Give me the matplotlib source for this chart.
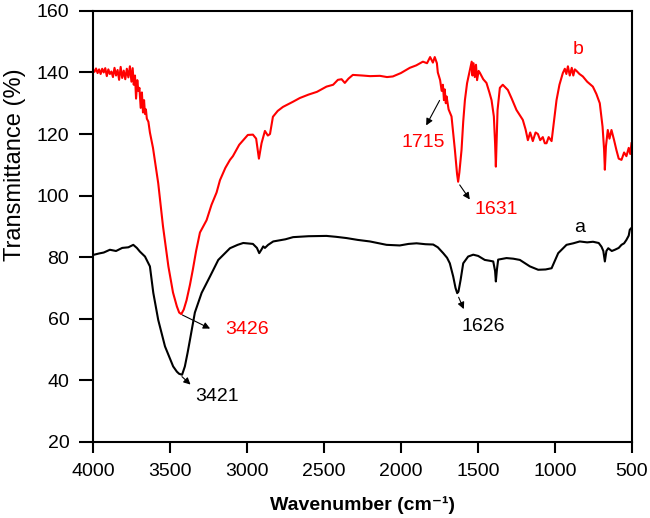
import numpy as np
import matplotlib.pyplot as plt

plt.rcParams['font.family'] = ['Liberation Sans', 'DejaVu Sans']

# curve b (red)
wn_b = [4000, 3990, 3980, 3970, 3960, 3950, 3940, 3930, 3920, 3910, 3900, 3890, 3880,
        3870, 3860, 3850, 3840, 3830, 3820, 3810, 3800, 3790, 3780, 3770, 3760, 3750,
        3742, 3735, 3727, 3720, 3712, 3705, 3698, 3690, 3682, 3675, 3668, 3662, 3656,
        3650, 3640, 3630, 3610, 3576, 3545, 3510, 3480, 3455, 3440, 3426, 3410, 3392,
        3370, 3351, 3330, 3305, 3262, 3230, 3197, 3175, 3140, 3110, 3091, 3050, 2994,
        2961, 2940, 2922, 2905, 2883, 2864, 2850, 2831, 2800, 2766, 2700, 2656, 2600,
        2545, 2483, 2440, 2409, 2385, 2364, 2340, 2312, 2250, 2200, 2136, 2090, 2052,
        2000, 1942, 1900, 1857, 1830, 1810, 1792, 1780, 1766, 1760, 1745, 1735, 1727,
        1720, 1715, 1708, 1703, 1690, 1671, 1649, 1635, 1628, 1620, 1606, 1595, 1584,
        1570, 1552, 1540, 1535, 1528, 1520, 1512, 1505, 1495, 1487, 1465, 1444, 1425,
        1411, 1396, 1388, 1383, 1378, 1372, 1357, 1338, 1305, 1280, 1249, 1208, 1190,
        1175, 1160, 1143, 1125, 1110, 1095, 1078, 1065, 1054, 1040, 1021, 989, 970,
        948, 935, 925, 915, 903, 890, 880, 870, 859, 840, 818, 790, 753, 730, 708, 690,
        680, 675, 668, 656, 645, 632, 615, 600, 585, 567, 550, 535, 520, 510, 502]
tr_b = [141.0, 140.2, 141.3, 139.8, 141.0, 139.5, 141.2, 140.0, 141.4, 138.8, 141.0,
        139.5, 140.3, 138.5, 141.5, 139.0, 140.8, 137.6, 141.8, 138.2, 140.6, 137.8,
        141.2, 138.4, 142.0, 137.0, 141.4, 136.0, 139.0, 131.5, 137.5, 134.0, 135.0,
        128.5, 133.5, 127.0, 131.0, 126.5, 128.0, 125.0, 124.0, 120.5, 115.5, 104.0,
        90.0, 77.0, 68.5, 64.0, 62.0, 61.5, 63.0, 66.0, 71.0, 76.0, 82.0, 88.0, 92.0,
        97.0, 101.0, 105.0, 109.0, 111.6, 112.8, 116.5, 119.7, 119.8, 118.5, 112.0,
        117.0, 121.0, 119.5, 120.0, 125.6, 127.5, 128.8, 130.5, 131.7, 132.8, 133.7,
        135.4, 136.0, 137.6, 137.8, 136.6, 138.0, 139.2, 139.0, 138.8, 138.9, 138.5,
        138.7, 139.8, 141.5, 142.3, 143.5, 143.0, 145.0, 143.2, 145.0, 143.0, 140.0,
        137.5, 134.0, 136.0, 131.0, 134.5, 130.0, 132.2, 128.0, 125.7, 114.8, 107.0,
        104.5, 107.5, 114.8, 124.0, 131.0, 136.5, 140.8, 143.5, 139.0, 143.0, 138.5,
        142.5, 137.5, 140.5, 139.9, 137.8, 136.6, 133.5, 131.0, 125.7, 117.0, 109.4,
        118.0, 127.8, 135.0, 136.0, 134.3, 131.5, 127.8, 124.6, 121.5, 118.0, 120.5,
        117.7, 120.5, 120.0, 118.0, 119.0, 117.0, 117.0, 119.0, 117.7, 131.0, 136.0,
        139.8, 141.2, 139.5, 142.0, 139.0, 141.5, 139.0, 141.0, 140.5, 139.5, 138.7,
        137.0, 135.4, 133.0, 130.0, 122.4, 115.0, 108.4, 116.0, 121.3, 118.5, 121.3,
        118.0, 114.8, 112.0, 111.6, 114.0, 112.8, 115.5, 113.5, 117.0]

# curve a (black)
wn_a = [4000, 3960, 3930, 3890, 3850, 3810, 3770, 3738, 3715, 3695, 3662, 3630, 3608,
        3576, 3532, 3479, 3455, 3440, 3421, 3403, 3385, 3370, 3338, 3294, 3240, 3186,
        3110, 3060, 3024, 2961, 2935, 2920, 2905, 2894, 2883, 2862, 2829, 2750, 2700,
        2600, 2483, 2420, 2353, 2280, 2201, 2093, 2007, 1950, 1898, 1840, 1790, 1760,
        1725, 1700, 1682, 1660, 1645, 1634, 1626, 1612, 1595, 1563, 1530, 1498, 1455,
        1420, 1400, 1388, 1383, 1376, 1368, 1314, 1270, 1227, 1162, 1108, 1060, 1021,
        978, 924, 880, 838, 790, 752, 715, 697, 685, 675, 665, 653, 630, 610, 585, 567,
        550, 535, 520, 513, 502]
tr_a = [80.7, 81.2, 81.5, 82.4, 82.0, 83.0, 83.2, 84.0, 83.0, 81.8, 80.2, 77.0, 68.4,
        59.6, 51.0, 44.5, 42.8, 42.1, 41.8, 44.5, 49.0, 53.1, 62.0, 68.4, 73.7, 79.1,
        82.9, 84.0, 84.6, 84.3, 83.0, 81.3, 82.5, 83.5, 83.0, 84.0, 85.1, 85.8, 86.5,
        86.8, 86.9, 86.6, 86.2, 85.6, 85.1, 84.0, 83.8, 84.3, 84.5, 84.2, 84.1, 83.2,
        81.3, 79.8, 78.0, 73.7, 70.0, 68.3, 68.8, 72.6, 78.0, 80.2, 80.8, 80.4, 79.1,
        78.8, 78.6, 75.5, 72.1, 76.0, 79.2, 79.7, 79.5, 79.1, 77.0, 75.9, 76.0, 76.4,
        81.3, 84.0, 84.5, 85.1, 84.8, 85.0, 84.6, 83.4, 82.0, 78.6, 82.0, 82.9, 82.0,
        82.4, 83.0, 84.0, 84.5, 85.6, 87.0, 88.9, 89.5]

fig, ax = plt.subplots(figsize=(6.5, 5.18), dpi=100)
fig.subplots_adjust(left=0.143, right=0.972, bottom=0.147, top=0.979)

ax.plot(wn_b, tr_b, color='#ff0000', lw=1.5)
ax.plot(wn_a, tr_a, color='black', lw=1.5)

ax.set_xlim(4000, 500)
ax.set_ylim(20, 160)
ax.set_xticks(np.arange(4000, 499, -500))
ax.set_yticks(np.arange(20, 161, 20))
ax.tick_params(axis='both', direction='out', width=1.5, labelsize=14,
               top=False, right=False)
ax.tick_params(axis='x', length=8, pad=7)
ax.tick_params(axis='y', length=10, pad=7)
for s in ax.spines.values():
    s.set_linewidth(1.5)

ax.set_xlabel('Wavenumber (cm⁻¹)', fontsize=14, fontweight='bold', labelpad=12)
ax.set_ylabel('Transmittance (%)', fontsize=17)
ax.yaxis.set_label_coords(-0.124, 0.643)

arrow = dict(arrowstyle='-|>', color='black', lw=0.8, mutation_scale=10)
ax.annotate('', xy=(1844, 122), xytext=(1740, 131.7), arrowprops=arrow)
ax.annotate('', xy=(1542, 98), xytext=(1628, 104.2), arrowprops=arrow)
ax.annotate('', xy=(3223, 56.4), xytext=(3435, 61.6), arrowprops=arrow)
ax.annotate('', xy=(3353, 38), xytext=(3435, 41.8), arrowprops=arrow)
ax.annotate('', xy=(1584, 62.3), xytext=(1632, 67.8), arrowprops=arrow)

lab = dict(fontsize=14, ha='center', va='center')
ax.text(1857, 117.1, '1715', color='#ff0000', **lab)
ax.text(1379, 95.4, '1631', color='#ff0000', **lab)
ax.text(3002, 56.6, '3426', color='#ff0000', **lab)
ax.text(3197, 34.7, '3421', color='black', **lab)
ax.text(1466, 57.4, '1626', color='black', **lab)
ax.text(851, 147.3, 'b', color='#ff0000', **lab)
ax.text(838, 89.5, 'a', color='black', **lab)

fig.savefig('out.png', dpi=100)
